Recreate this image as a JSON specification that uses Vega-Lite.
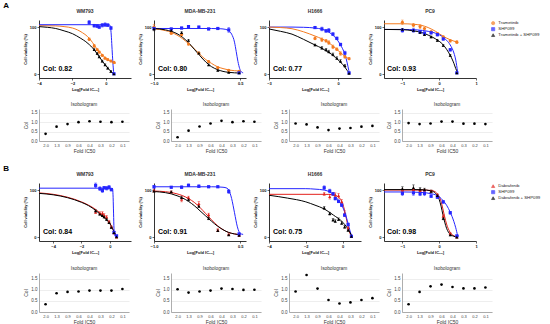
{
"$schema":"https://vega.github.io/schema/vega-lite/v6.json",
"padding":{"left":3,"top":1,"right":0,"bottom":0},
"autosize":{"type":"pad"},
"background":"white",
"datasets":{
"curves":[
{"p":"A1","d":"Trametinib","x":-4,"y":103},{"p":"A1","d":"Trametinib","x":-3,"y":102.5},{"p":"A1","d":"Trametinib","x":-2.5,"y":101},{"p":"A1","d":"Trametinib","x":-2,"y":98},{"p":"A1","d":"Trametinib","x":-1.7,"y":94},{"p":"A1","d":"Trametinib","x":-1.4,"y":88},{"p":"A1","d":"Trametinib","x":-1.1,"y":80},{"p":"A1","d":"Trametinib","x":-0.9,"y":72},{"p":"A1","d":"Trametinib","x":-0.7,"y":62},{"p":"A1","d":"Trametinib","x":-0.5,"y":52},{"p":"A1","d":"Trametinib","x":-0.3,"y":44},{"p":"A1","d":"Trametinib","x":-0.1,"y":37},{"p":"A1","d":"Trametinib","x":0.1,"y":31},{"p":"A1","d":"Trametinib","x":0.3,"y":27.5},{"p":"A1","d":"Trametinib","x":0.5,"y":24.5},{"p":"A1","d":"Trametinib","x":0.6,"y":23.5},
{"p":"A1","d":"SHP099","x":-4,"y":105},{"p":"A1","d":"SHP099","x":0,"y":105},{"p":"A1","d":"SHP099","x":0.22,"y":104.5},{"p":"A1","d":"SHP099","x":0.27,"y":100},{"p":"A1","d":"SHP099","x":0.31,"y":88},{"p":"A1","d":"SHP099","x":0.35,"y":65},{"p":"A1","d":"SHP099","x":0.39,"y":40},{"p":"A1","d":"SHP099","x":0.43,"y":18},{"p":"A1","d":"SHP099","x":0.47,"y":3},{"p":"A1","d":"SHP099","x":0.5,"y":0.5},
{"p":"A1","d":"Trametinib + SHP099","x":-4,"y":101},{"p":"A1","d":"Trametinib + SHP099","x":-3.5,"y":99.5},{"p":"A1","d":"Trametinib + SHP099","x":-3,"y":97},{"p":"A1","d":"Trametinib + SHP099","x":-2.5,"y":92},{"p":"A1","d":"Trametinib + SHP099","x":-2,"y":86},{"p":"A1","d":"Trametinib + SHP099","x":-1.5,"y":76},{"p":"A1","d":"Trametinib + SHP099","x":-1.2,"y":69},{"p":"A1","d":"Trametinib + SHP099","x":-1,"y":63},{"p":"A1","d":"Trametinib + SHP099","x":-0.8,"y":56},{"p":"A1","d":"Trametinib + SHP099","x":-0.6,"y":47},{"p":"A1","d":"Trametinib + SHP099","x":-0.4,"y":37},{"p":"A1","d":"Trametinib + SHP099","x":-0.2,"y":27},{"p":"A1","d":"Trametinib + SHP099","x":0,"y":18},{"p":"A1","d":"Trametinib + SHP099","x":0.2,"y":10},{"p":"A1","d":"Trametinib + SHP099","x":0.35,"y":4},{"p":"A1","d":"Trametinib + SHP099","x":0.5,"y":0},
{"p":"A2","d":"Trametinib","x":-1,"y":96},{"p":"A2","d":"Trametinib","x":-0.9,"y":95},{"p":"A2","d":"Trametinib","x":-0.8,"y":92.5},{"p":"A2","d":"Trametinib","x":-0.7,"y":89},{"p":"A2","d":"Trametinib","x":-0.6,"y":83},{"p":"A2","d":"Trametinib","x":-0.5,"y":75},{"p":"A2","d":"Trametinib","x":-0.4,"y":65},{"p":"A2","d":"Trametinib","x":-0.3,"y":54},{"p":"A2","d":"Trametinib","x":-0.2,"y":42},{"p":"A2","d":"Trametinib","x":-0.1,"y":31},{"p":"A2","d":"Trametinib","x":0,"y":23},{"p":"A2","d":"Trametinib","x":0.1,"y":16},{"p":"A2","d":"Trametinib","x":0.2,"y":12},{"p":"A2","d":"Trametinib","x":0.3,"y":9},{"p":"A2","d":"Trametinib","x":0.4,"y":7.5},{"p":"A2","d":"Trametinib","x":0.5,"y":6.5},
{"p":"A2","d":"SHP099","x":-1,"y":97},{"p":"A2","d":"SHP099","x":0,"y":97},{"p":"A2","d":"SHP099","x":0.15,"y":96.5},{"p":"A2","d":"SHP099","x":0.25,"y":95},{"p":"A2","d":"SHP099","x":0.3,"y":92},{"p":"A2","d":"SHP099","x":0.35,"y":85},{"p":"A2","d":"SHP099","x":0.4,"y":68},{"p":"A2","d":"SHP099","x":0.43,"y":48},{"p":"A2","d":"SHP099","x":0.46,"y":27},{"p":"A2","d":"SHP099","x":0.49,"y":12},{"p":"A2","d":"SHP099","x":0.52,"y":5},{"p":"A2","d":"SHP099","x":0.55,"y":3},
{"p":"A2","d":"Trametinib + SHP099","x":-1,"y":97},{"p":"A2","d":"Trametinib + SHP099","x":-0.9,"y":96},{"p":"A2","d":"Trametinib + SHP099","x":-0.8,"y":94},{"p":"A2","d":"Trametinib + SHP099","x":-0.7,"y":91},{"p":"A2","d":"Trametinib + SHP099","x":-0.6,"y":86},{"p":"A2","d":"Trametinib + SHP099","x":-0.5,"y":78},{"p":"A2","d":"Trametinib + SHP099","x":-0.4,"y":67},{"p":"A2","d":"Trametinib + SHP099","x":-0.3,"y":53},{"p":"A2","d":"Trametinib + SHP099","x":-0.2,"y":39},{"p":"A2","d":"Trametinib + SHP099","x":-0.1,"y":26},{"p":"A2","d":"Trametinib + SHP099","x":0,"y":16},{"p":"A2","d":"Trametinib + SHP099","x":0.1,"y":10},{"p":"A2","d":"Trametinib + SHP099","x":0.2,"y":6},{"p":"A2","d":"Trametinib + SHP099","x":0.3,"y":4},{"p":"A2","d":"Trametinib + SHP099","x":0.4,"y":3},{"p":"A2","d":"Trametinib + SHP099","x":0.5,"y":2.5},
{"p":"A3","d":"SHP099","x":-3,"y":100},{"p":"A3","d":"SHP099","x":-2,"y":100},{"p":"A3","d":"SHP099","x":-1.5,"y":99.5},{"p":"A3","d":"SHP099","x":-1,"y":98},{"p":"A3","d":"SHP099","x":-0.7,"y":95.5},{"p":"A3","d":"SHP099","x":-0.5,"y":92},{"p":"A3","d":"SHP099","x":-0.3,"y":86},{"p":"A3","d":"SHP099","x":-0.1,"y":77},{"p":"A3","d":"SHP099","x":0.1,"y":63},{"p":"A3","d":"SHP099","x":0.2,"y":54},{"p":"A3","d":"SHP099","x":0.3,"y":42},{"p":"A3","d":"SHP099","x":0.4,"y":24},{"p":"A3","d":"SHP099","x":0.47,"y":8},{"p":"A3","d":"SHP099","x":0.5,"y":2},
{"p":"A3","d":"Trametinib","x":-3,"y":100},{"p":"A3","d":"Trametinib","x":-2.5,"y":99},{"p":"A3","d":"Trametinib","x":-2,"y":96.5},{"p":"A3","d":"Trametinib","x":-1.5,"y":90},{"p":"A3","d":"Trametinib","x":-1,"y":81},{"p":"A3","d":"Trametinib","x":-0.7,"y":75},{"p":"A3","d":"Trametinib","x":-0.5,"y":70},{"p":"A3","d":"Trametinib","x":-0.3,"y":63},{"p":"A3","d":"Trametinib","x":-0.1,"y":55},{"p":"A3","d":"Trametinib","x":0.1,"y":46},{"p":"A3","d":"Trametinib","x":0.3,"y":38},{"p":"A3","d":"Trametinib","x":0.5,"y":32},
{"p":"A3","d":"Trametinib + SHP099","x":-3,"y":96},{"p":"A3","d":"Trametinib + SHP099","x":-2.5,"y":91},{"p":"A3","d":"Trametinib + SHP099","x":-2,"y":85},{"p":"A3","d":"Trametinib + SHP099","x":-1.5,"y":74},{"p":"A3","d":"Trametinib + SHP099","x":-1,"y":62},{"p":"A3","d":"Trametinib + SHP099","x":-0.7,"y":55},{"p":"A3","d":"Trametinib + SHP099","x":-0.5,"y":49},{"p":"A3","d":"Trametinib + SHP099","x":-0.3,"y":43},{"p":"A3","d":"Trametinib + SHP099","x":-0.1,"y":35},{"p":"A3","d":"Trametinib + SHP099","x":0.1,"y":26},{"p":"A3","d":"Trametinib + SHP099","x":0.3,"y":15},{"p":"A3","d":"Trametinib + SHP099","x":0.4,"y":8},{"p":"A3","d":"Trametinib + SHP099","x":0.5,"y":2},
{"p":"A4","d":"Trametinib","x":-1.5,"y":107},{"p":"A4","d":"Trametinib","x":-1,"y":107},{"p":"A4","d":"Trametinib","x":-0.7,"y":106},{"p":"A4","d":"Trametinib","x":-0.5,"y":104},{"p":"A4","d":"Trametinib","x":-0.3,"y":99},{"p":"A4","d":"Trametinib","x":-0.1,"y":91},{"p":"A4","d":"Trametinib","x":0.1,"y":81},{"p":"A4","d":"Trametinib","x":0.3,"y":73},{"p":"A4","d":"Trametinib","x":0.5,"y":68},
{"p":"A4","d":"SHP099","x":-1.5,"y":95},{"p":"A4","d":"SHP099","x":-1,"y":95},{"p":"A4","d":"SHP099","x":-0.6,"y":94},{"p":"A4","d":"SHP099","x":-0.3,"y":91},{"p":"A4","d":"SHP099","x":-0.1,"y":87},{"p":"A4","d":"SHP099","x":0.1,"y":79},{"p":"A4","d":"SHP099","x":0.2,"y":72},{"p":"A4","d":"SHP099","x":0.3,"y":62},{"p":"A4","d":"SHP099","x":0.4,"y":45},{"p":"A4","d":"SHP099","x":0.45,"y":30},{"p":"A4","d":"SHP099","x":0.5,"y":5},
{"p":"A4","d":"Trametinib + SHP099","x":-1.5,"y":95},{"p":"A4","d":"Trametinib + SHP099","x":-1,"y":94.5},{"p":"A4","d":"Trametinib + SHP099","x":-0.7,"y":92},{"p":"A4","d":"Trametinib + SHP099","x":-0.5,"y":89},{"p":"A4","d":"Trametinib + SHP099","x":-0.3,"y":83},{"p":"A4","d":"Trametinib + SHP099","x":-0.1,"y":75},{"p":"A4","d":"Trametinib + SHP099","x":0.1,"y":63},{"p":"A4","d":"Trametinib + SHP099","x":0.2,"y":53},{"p":"A4","d":"Trametinib + SHP099","x":0.3,"y":40},{"p":"A4","d":"Trametinib + SHP099","x":0.4,"y":23},{"p":"A4","d":"Trametinib + SHP099","x":0.45,"y":12},{"p":"A4","d":"Trametinib + SHP099","x":0.5,"y":3},
{"p":"B1","d":"Dabrafenib","x":-5,"y":94},{"p":"B1","d":"Dabrafenib","x":-4,"y":91},{"p":"B1","d":"Dabrafenib","x":-3,"y":85},{"p":"B1","d":"Dabrafenib","x":-2,"y":75},{"p":"B1","d":"Dabrafenib","x":-1.5,"y":68},{"p":"B1","d":"Dabrafenib","x":-1,"y":59},{"p":"B1","d":"Dabrafenib","x":-0.5,"y":46},{"p":"B1","d":"Dabrafenib","x":-0.2,"y":37},{"p":"B1","d":"Dabrafenib","x":0,"y":30},{"p":"B1","d":"Dabrafenib","x":0.2,"y":19},{"p":"B1","d":"Dabrafenib","x":0.35,"y":9},{"p":"B1","d":"Dabrafenib","x":0.5,"y":0},
{"p":"B1","d":"Dabrafenib + SHP099","x":-5,"y":93},{"p":"B1","d":"Dabrafenib + SHP099","x":-4,"y":90},{"p":"B1","d":"Dabrafenib + SHP099","x":-3,"y":84},{"p":"B1","d":"Dabrafenib + SHP099","x":-2,"y":74},{"p":"B1","d":"Dabrafenib + SHP099","x":-1.5,"y":67},{"p":"B1","d":"Dabrafenib + SHP099","x":-1,"y":57},{"p":"B1","d":"Dabrafenib + SHP099","x":-0.5,"y":44},{"p":"B1","d":"Dabrafenib + SHP099","x":-0.2,"y":36},{"p":"B1","d":"Dabrafenib + SHP099","x":0,"y":29},{"p":"B1","d":"Dabrafenib + SHP099","x":0.2,"y":18},{"p":"B1","d":"Dabrafenib + SHP099","x":0.35,"y":8},{"p":"B1","d":"Dabrafenib + SHP099","x":0.5,"y":0},
{"p":"B1","d":"SHP099","x":-5,"y":104},{"p":"B1","d":"SHP099","x":0,"y":104},{"p":"B1","d":"SHP099","x":0.2,"y":103},{"p":"B1","d":"SHP099","x":0.23,"y":90},{"p":"B1","d":"SHP099","x":0.26,"y":60},{"p":"B1","d":"SHP099","x":0.29,"y":25},{"p":"B1","d":"SHP099","x":0.32,"y":8},{"p":"B1","d":"SHP099","x":0.38,"y":2},{"p":"B1","d":"SHP099","x":0.45,"y":0.5},
{"p":"B2","d":"Dabrafenib","x":-1,"y":98},{"p":"B2","d":"Dabrafenib","x":-0.9,"y":97.5},{"p":"B2","d":"Dabrafenib","x":-0.8,"y":96.5},{"p":"B2","d":"Dabrafenib","x":-0.7,"y":95},{"p":"B2","d":"Dabrafenib","x":-0.6,"y":92},{"p":"B2","d":"Dabrafenib","x":-0.5,"y":88},{"p":"B2","d":"Dabrafenib","x":-0.4,"y":82},{"p":"B2","d":"Dabrafenib","x":-0.3,"y":74},{"p":"B2","d":"Dabrafenib","x":-0.2,"y":63},{"p":"B2","d":"Dabrafenib","x":-0.1,"y":50},{"p":"B2","d":"Dabrafenib","x":0,"y":37},{"p":"B2","d":"Dabrafenib","x":0.1,"y":25},{"p":"B2","d":"Dabrafenib","x":0.2,"y":16},{"p":"B2","d":"Dabrafenib","x":0.3,"y":10},{"p":"B2","d":"Dabrafenib","x":0.4,"y":7},{"p":"B2","d":"Dabrafenib","x":0.5,"y":5},
{"p":"B2","d":"Dabrafenib + SHP099","x":-1,"y":97},{"p":"B2","d":"Dabrafenib + SHP099","x":-0.9,"y":96},{"p":"B2","d":"Dabrafenib + SHP099","x":-0.8,"y":94.5},{"p":"B2","d":"Dabrafenib + SHP099","x":-0.7,"y":92},{"p":"B2","d":"Dabrafenib + SHP099","x":-0.6,"y":88},{"p":"B2","d":"Dabrafenib + SHP099","x":-0.5,"y":83},{"p":"B2","d":"Dabrafenib + SHP099","x":-0.4,"y":76},{"p":"B2","d":"Dabrafenib + SHP099","x":-0.3,"y":67},{"p":"B2","d":"Dabrafenib + SHP099","x":-0.2,"y":56},{"p":"B2","d":"Dabrafenib + SHP099","x":-0.1,"y":45},{"p":"B2","d":"Dabrafenib + SHP099","x":0,"y":34},{"p":"B2","d":"Dabrafenib + SHP099","x":0.1,"y":24},{"p":"B2","d":"Dabrafenib + SHP099","x":0.2,"y":16},{"p":"B2","d":"Dabrafenib + SHP099","x":0.3,"y":10},{"p":"B2","d":"Dabrafenib + SHP099","x":0.4,"y":7},{"p":"B2","d":"Dabrafenib + SHP099","x":0.5,"y":5},
{"p":"B2","d":"SHP099","x":-1,"y":107},{"p":"B2","d":"SHP099","x":0,"y":107},{"p":"B2","d":"SHP099","x":0.2,"y":106},{"p":"B2","d":"SHP099","x":0.27,"y":104},{"p":"B2","d":"SHP099","x":0.3,"y":100},{"p":"B2","d":"SHP099","x":0.35,"y":82},{"p":"B2","d":"SHP099","x":0.4,"y":52},{"p":"B2","d":"SHP099","x":0.45,"y":22},{"p":"B2","d":"SHP099","x":0.5,"y":8},{"p":"B2","d":"SHP099","x":0.55,"y":6},
{"p":"B3","d":"Dabrafenib","x":-4,"y":91},{"p":"B3","d":"Dabrafenib","x":-1,"y":91},{"p":"B3","d":"Dabrafenib","x":-0.5,"y":90},{"p":"B3","d":"Dabrafenib","x":-0.3,"y":87},{"p":"B3","d":"Dabrafenib","x":-0.1,"y":80},{"p":"B3","d":"Dabrafenib","x":0,"y":72},{"p":"B3","d":"Dabrafenib","x":0.1,"y":58},{"p":"B3","d":"Dabrafenib","x":0.2,"y":40},{"p":"B3","d":"Dabrafenib","x":0.3,"y":22},{"p":"B3","d":"Dabrafenib","x":0.4,"y":8},{"p":"B3","d":"Dabrafenib","x":0.5,"y":2},
{"p":"B3","d":"SHP099","x":-4,"y":103},{"p":"B3","d":"SHP099","x":-2,"y":103},{"p":"B3","d":"SHP099","x":-1.5,"y":102},{"p":"B3","d":"SHP099","x":-1,"y":100},{"p":"B3","d":"SHP099","x":-0.7,"y":96},{"p":"B3","d":"SHP099","x":-0.5,"y":90},{"p":"B3","d":"SHP099","x":-0.3,"y":82},{"p":"B3","d":"SHP099","x":-0.1,"y":71},{"p":"B3","d":"SHP099","x":0.1,"y":55},{"p":"B3","d":"SHP099","x":0.2,"y":43},{"p":"B3","d":"SHP099","x":0.3,"y":29},{"p":"B3","d":"SHP099","x":0.4,"y":14},{"p":"B3","d":"SHP099","x":0.5,"y":2},
{"p":"B3","d":"Dabrafenib + SHP099","x":-4,"y":89},{"p":"B3","d":"Dabrafenib + SHP099","x":-3,"y":83},{"p":"B3","d":"Dabrafenib + SHP099","x":-2,"y":75},{"p":"B3","d":"Dabrafenib + SHP099","x":-1.5,"y":68},{"p":"B3","d":"Dabrafenib + SHP099","x":-1,"y":60},{"p":"B3","d":"Dabrafenib + SHP099","x":-0.5,"y":47},{"p":"B3","d":"Dabrafenib + SHP099","x":0,"y":32},{"p":"B3","d":"Dabrafenib + SHP099","x":0.25,"y":20},{"p":"B3","d":"Dabrafenib + SHP099","x":0.4,"y":10},{"p":"B3","d":"Dabrafenib + SHP099","x":0.5,"y":3},
{"p":"B4","d":"Dabrafenib","x":-1.5,"y":100},{"p":"B4","d":"Dabrafenib","x":-0.5,"y":100},{"p":"B4","d":"Dabrafenib","x":-0.2,"y":99},{"p":"B4","d":"Dabrafenib","x":-0.1,"y":96},{"p":"B4","d":"Dabrafenib","x":0,"y":86},{"p":"B4","d":"Dabrafenib","x":0.05,"y":76},{"p":"B4","d":"Dabrafenib","x":0.1,"y":60},{"p":"B4","d":"Dabrafenib","x":0.15,"y":43},{"p":"B4","d":"Dabrafenib","x":0.2,"y":28},{"p":"B4","d":"Dabrafenib","x":0.3,"y":10},{"p":"B4","d":"Dabrafenib","x":0.4,"y":3},{"p":"B4","d":"Dabrafenib","x":0.5,"y":0},
{"p":"B4","d":"Dabrafenib + SHP099","x":-1.5,"y":101},{"p":"B4","d":"Dabrafenib + SHP099","x":-0.5,"y":101},{"p":"B4","d":"Dabrafenib + SHP099","x":-0.2,"y":98},{"p":"B4","d":"Dabrafenib + SHP099","x":-0.1,"y":93},{"p":"B4","d":"Dabrafenib + SHP099","x":0,"y":80},{"p":"B4","d":"Dabrafenib + SHP099","x":0.05,"y":66},{"p":"B4","d":"Dabrafenib + SHP099","x":0.1,"y":48},{"p":"B4","d":"Dabrafenib + SHP099","x":0.15,"y":32},{"p":"B4","d":"Dabrafenib + SHP099","x":0.2,"y":19},{"p":"B4","d":"Dabrafenib + SHP099","x":0.3,"y":6},{"p":"B4","d":"Dabrafenib + SHP099","x":0.4,"y":2},{"p":"B4","d":"Dabrafenib + SHP099","x":0.5,"y":0},
{"p":"B4","d":"SHP099","x":-1.5,"y":96},{"p":"B4","d":"SHP099","x":-1,"y":96},{"p":"B4","d":"SHP099","x":-0.5,"y":95},{"p":"B4","d":"SHP099","x":-0.2,"y":92},{"p":"B4","d":"SHP099","x":0,"y":86},{"p":"B4","d":"SHP099","x":0.1,"y":78},{"p":"B4","d":"SHP099","x":0.2,"y":68},{"p":"B4","d":"SHP099","x":0.3,"y":53},{"p":"B4","d":"SHP099","x":0.4,"y":33},{"p":"B4","d":"SHP099","x":0.45,"y":20},{"p":"B4","d":"SHP099","x":0.5,"y":5},{"p":"B4","d":"SHP099","x":0.53,"y":2}
],
"pts":[
{"p":"A1","d":"Trametinib","x":-1,"y":74,"e":3},{"p":"A1","d":"Trametinib","x":-0.7,"y":60,"e":3},{"p":"A1","d":"Trametinib","x":-0.52,"y":52,"e":2},{"p":"A1","d":"Trametinib","x":-0.4,"y":47,"e":2},{"p":"A1","d":"Trametinib","x":-0.22,"y":40,"e":2},{"p":"A1","d":"Trametinib","x":-0.05,"y":34,"e":2},{"p":"A1","d":"Trametinib","x":0.11,"y":31,"e":2},{"p":"A1","d":"Trametinib","x":0.3,"y":28,"e":2},{"p":"A1","d":"Trametinib","x":0.48,"y":25,"e":2},
{"p":"A1","d":"SHP099","x":-1,"y":110,"e":4},{"p":"A1","d":"SHP099","x":-0.7,"y":103,"e":3},{"p":"A1","d":"SHP099","x":-0.52,"y":102,"e":3},{"p":"A1","d":"SHP099","x":-0.4,"y":100,"e":3},{"p":"A1","d":"SHP099","x":-0.22,"y":104,"e":4},{"p":"A1","d":"SHP099","x":-0.05,"y":105,"e":4},{"p":"A1","d":"SHP099","x":0.11,"y":104,"e":3},{"p":"A1","d":"SHP099","x":0.3,"y":98,"e":3},{"p":"A1","d":"SHP099","x":0.48,"y":1,"e":1},
{"p":"A1","d":"Trametinib + SHP099","x":-0.7,"y":52,"e":2},{"p":"A1","d":"Trametinib + SHP099","x":-0.52,"y":44,"e":2},{"p":"A1","d":"Trametinib + SHP099","x":-0.4,"y":37,"e":2},{"p":"A1","d":"Trametinib + SHP099","x":-0.22,"y":28,"e":2},{"p":"A1","d":"Trametinib + SHP099","x":-0.05,"y":20,"e":2},{"p":"A1","d":"Trametinib + SHP099","x":0.11,"y":13,"e":2},{"p":"A1","d":"Trametinib + SHP099","x":0.3,"y":6,"e":2},{"p":"A1","d":"Trametinib + SHP099","x":0.48,"y":1,"e":1},
{"p":"A2","d":"Trametinib","x":-1,"y":100,"e":6},{"p":"A2","d":"Trametinib","x":-0.7,"y":87,"e":3},{"p":"A2","d":"Trametinib","x":-0.52,"y":84,"e":2},{"p":"A2","d":"Trametinib","x":-0.4,"y":64,"e":2},{"p":"A2","d":"Trametinib","x":-0.22,"y":45,"e":2},{"p":"A2","d":"Trametinib","x":-0.05,"y":27,"e":2},{"p":"A2","d":"Trametinib","x":0.11,"y":14,"e":1},{"p":"A2","d":"Trametinib","x":0.3,"y":8,"e":1},{"p":"A2","d":"Trametinib","x":0.48,"y":6,"e":1},
{"p":"A2","d":"SHP099","x":-1,"y":97,"e":2},{"p":"A2","d":"SHP099","x":-0.7,"y":96,"e":2},{"p":"A2","d":"SHP099","x":-0.52,"y":98,"e":2},{"p":"A2","d":"SHP099","x":-0.4,"y":101,"e":2},{"p":"A2","d":"SHP099","x":-0.22,"y":100,"e":2},{"p":"A2","d":"SHP099","x":-0.05,"y":96,"e":2},{"p":"A2","d":"SHP099","x":0.11,"y":97,"e":2},{"p":"A2","d":"SHP099","x":0.3,"y":94,"e":5},{"p":"A2","d":"SHP099","x":0.48,"y":3,"e":1},
{"p":"A2","d":"Trametinib + SHP099","x":-1,"y":96,"e":4},{"p":"A2","d":"Trametinib + SHP099","x":-0.7,"y":93,"e":2},{"p":"A2","d":"Trametinib + SHP099","x":-0.52,"y":88,"e":2},{"p":"A2","d":"Trametinib + SHP099","x":-0.4,"y":72,"e":2},{"p":"A2","d":"Trametinib + SHP099","x":-0.22,"y":45,"e":2},{"p":"A2","d":"Trametinib + SHP099","x":-0.05,"y":20,"e":2},{"p":"A2","d":"Trametinib + SHP099","x":0.11,"y":8,"e":1},{"p":"A2","d":"Trametinib + SHP099","x":0.3,"y":4,"e":1},{"p":"A2","d":"Trametinib + SHP099","x":0.48,"y":3,"e":1},
{"p":"A3","d":"Trametinib","x":-1,"y":76,"e":3},{"p":"A3","d":"Trametinib","x":-0.7,"y":73,"e":4},{"p":"A3","d":"Trametinib","x":-0.52,"y":71,"e":3},{"p":"A3","d":"Trametinib","x":-0.4,"y":67,"e":4},{"p":"A3","d":"Trametinib","x":-0.22,"y":58,"e":4},{"p":"A3","d":"Trametinib","x":-0.05,"y":53,"e":3},{"p":"A3","d":"Trametinib","x":0.11,"y":44,"e":4},{"p":"A3","d":"Trametinib","x":0.3,"y":37,"e":3},{"p":"A3","d":"Trametinib","x":0.48,"y":33,"e":2},
{"p":"A3","d":"SHP099","x":-1,"y":99,"e":2},{"p":"A3","d":"SHP099","x":-0.7,"y":96,"e":4},{"p":"A3","d":"SHP099","x":-0.52,"y":92,"e":3},{"p":"A3","d":"SHP099","x":-0.4,"y":93,"e":4},{"p":"A3","d":"SHP099","x":-0.22,"y":85,"e":3},{"p":"A3","d":"SHP099","x":-0.05,"y":76,"e":3},{"p":"A3","d":"SHP099","x":0.11,"y":63,"e":3},{"p":"A3","d":"SHP099","x":0.3,"y":45,"e":4},{"p":"A3","d":"SHP099","x":0.48,"y":3,"e":1},
{"p":"A3","d":"Trametinib + SHP099","x":-1,"y":62,"e":2},{"p":"A3","d":"Trametinib + SHP099","x":-0.7,"y":56,"e":3},{"p":"A3","d":"Trametinib + SHP099","x":-0.52,"y":52,"e":3},{"p":"A3","d":"Trametinib + SHP099","x":-0.4,"y":48,"e":3},{"p":"A3","d":"Trametinib + SHP099","x":-0.22,"y":42,"e":3},{"p":"A3","d":"Trametinib + SHP099","x":-0.05,"y":34,"e":3},{"p":"A3","d":"Trametinib + SHP099","x":0.11,"y":28,"e":3},{"p":"A3","d":"Trametinib + SHP099","x":0.3,"y":18,"e":3},{"p":"A3","d":"Trametinib + SHP099","x":0.48,"y":2,"e":1},
{"p":"A4","d":"Trametinib","x":-1,"y":110,"e":5},{"p":"A4","d":"Trametinib","x":-0.7,"y":104,"e":4},{"p":"A4","d":"Trametinib","x":-0.52,"y":101,"e":4},{"p":"A4","d":"Trametinib","x":-0.4,"y":97,"e":3},{"p":"A4","d":"Trametinib","x":-0.22,"y":90,"e":3},{"p":"A4","d":"Trametinib","x":-0.05,"y":86,"e":3},{"p":"A4","d":"Trametinib","x":0.11,"y":79,"e":3},{"p":"A4","d":"Trametinib","x":0.3,"y":71,"e":3},{"p":"A4","d":"Trametinib","x":0.48,"y":68,"e":3},
{"p":"A4","d":"SHP099","x":-1,"y":93,"e":4},{"p":"A4","d":"SHP099","x":-0.7,"y":93,"e":4},{"p":"A4","d":"SHP099","x":-0.52,"y":90,"e":3},{"p":"A4","d":"SHP099","x":-0.4,"y":87,"e":3},{"p":"A4","d":"SHP099","x":-0.22,"y":88,"e":3},{"p":"A4","d":"SHP099","x":-0.05,"y":84,"e":3},{"p":"A4","d":"SHP099","x":0.11,"y":75,"e":3},{"p":"A4","d":"SHP099","x":0.3,"y":52,"e":3},{"p":"A4","d":"SHP099","x":0.48,"y":3,"e":1},
{"p":"A4","d":"Trametinib + SHP099","x":-1,"y":95,"e":2},{"p":"A4","d":"Trametinib + SHP099","x":-0.7,"y":93,"e":2},{"p":"A4","d":"Trametinib + SHP099","x":-0.52,"y":89,"e":2},{"p":"A4","d":"Trametinib + SHP099","x":-0.4,"y":84,"e":2},{"p":"A4","d":"Trametinib + SHP099","x":-0.22,"y":79,"e":2},{"p":"A4","d":"Trametinib + SHP099","x":-0.05,"y":72,"e":2},{"p":"A4","d":"Trametinib + SHP099","x":0.11,"y":61,"e":2},{"p":"A4","d":"Trametinib + SHP099","x":0.3,"y":40,"e":2},{"p":"A4","d":"Trametinib + SHP099","x":0.48,"y":3,"e":1},
{"p":"B1","d":"Dabrafenib","x":-1,"y":53,"e":3},{"p":"B1","d":"Dabrafenib","x":-0.7,"y":51,"e":3},{"p":"B1","d":"Dabrafenib","x":-0.52,"y":51,"e":3},{"p":"B1","d":"Dabrafenib","x":-0.4,"y":47,"e":3},{"p":"B1","d":"Dabrafenib","x":-0.22,"y":43,"e":3},{"p":"B1","d":"Dabrafenib","x":-0.05,"y":33,"e":3},{"p":"B1","d":"Dabrafenib","x":0.11,"y":22,"e":2},{"p":"B1","d":"Dabrafenib","x":0.3,"y":9,"e":2},{"p":"B1","d":"Dabrafenib","x":0.48,"y":0,"e":1},
{"p":"B1","d":"SHP099","x":-1,"y":110,"e":5},{"p":"B1","d":"SHP099","x":-0.7,"y":103,"e":4},{"p":"B1","d":"SHP099","x":-0.52,"y":99,"e":4},{"p":"B1","d":"SHP099","x":-0.4,"y":105,"e":3},{"p":"B1","d":"SHP099","x":-0.22,"y":104,"e":4},{"p":"B1","d":"SHP099","x":-0.05,"y":106,"e":4},{"p":"B1","d":"SHP099","x":0.11,"y":101,"e":3},{"p":"B1","d":"SHP099","x":0.3,"y":10,"e":3},{"p":"B1","d":"SHP099","x":0.48,"y":3,"e":1},
{"p":"B1","d":"Dabrafenib + SHP099","x":-1,"y":56,"e":2},{"p":"B1","d":"Dabrafenib + SHP099","x":-0.7,"y":49,"e":2},{"p":"B1","d":"Dabrafenib + SHP099","x":-0.52,"y":46,"e":2},{"p":"B1","d":"Dabrafenib + SHP099","x":-0.4,"y":43,"e":2},{"p":"B1","d":"Dabrafenib + SHP099","x":-0.22,"y":38,"e":2},{"p":"B1","d":"Dabrafenib + SHP099","x":-0.05,"y":31,"e":2},{"p":"B1","d":"Dabrafenib + SHP099","x":0.11,"y":21,"e":2},{"p":"B1","d":"Dabrafenib + SHP099","x":0.3,"y":10,"e":2},{"p":"B1","d":"Dabrafenib + SHP099","x":0.48,"y":1,"e":1},
{"p":"B2","d":"Dabrafenib","x":-1,"y":99,"e":3},{"p":"B2","d":"Dabrafenib","x":-0.7,"y":96,"e":2},{"p":"B2","d":"Dabrafenib","x":-0.52,"y":80,"e":5},{"p":"B2","d":"Dabrafenib","x":-0.4,"y":84,"e":3},{"p":"B2","d":"Dabrafenib","x":-0.22,"y":71,"e":5},{"p":"B2","d":"Dabrafenib","x":-0.05,"y":48,"e":3},{"p":"B2","d":"Dabrafenib","x":0.11,"y":15,"e":3},{"p":"B2","d":"Dabrafenib","x":0.3,"y":6,"e":1},{"p":"B2","d":"Dabrafenib","x":0.48,"y":4,"e":1},
{"p":"B2","d":"SHP099","x":-1,"y":107,"e":3},{"p":"B2","d":"SHP099","x":-0.7,"y":106,"e":2},{"p":"B2","d":"SHP099","x":-0.52,"y":106,"e":3},{"p":"B2","d":"SHP099","x":-0.4,"y":110,"e":3},{"p":"B2","d":"SHP099","x":-0.22,"y":108,"e":3},{"p":"B2","d":"SHP099","x":-0.05,"y":107,"e":2},{"p":"B2","d":"SHP099","x":0.11,"y":107,"e":2},{"p":"B2","d":"SHP099","x":0.3,"y":97,"e":4},{"p":"B2","d":"SHP099","x":0.48,"y":7,"e":2},
{"p":"B2","d":"Dabrafenib + SHP099","x":-1,"y":98,"e":2},{"p":"B2","d":"Dabrafenib + SHP099","x":-0.7,"y":96,"e":2},{"p":"B2","d":"Dabrafenib + SHP099","x":-0.52,"y":84,"e":3},{"p":"B2","d":"Dabrafenib + SHP099","x":-0.4,"y":80,"e":3},{"p":"B2","d":"Dabrafenib + SHP099","x":-0.22,"y":66,"e":3},{"p":"B2","d":"Dabrafenib + SHP099","x":-0.05,"y":40,"e":3},{"p":"B2","d":"Dabrafenib + SHP099","x":0.11,"y":14,"e":2},{"p":"B2","d":"Dabrafenib + SHP099","x":0.3,"y":5,"e":1},{"p":"B2","d":"Dabrafenib + SHP099","x":0.48,"y":4,"e":1},
{"p":"B3","d":"Dabrafenib","x":-1,"y":92,"e":3},{"p":"B3","d":"Dabrafenib","x":-0.7,"y":86,"e":5},{"p":"B3","d":"Dabrafenib","x":-0.52,"y":92,"e":3},{"p":"B3","d":"Dabrafenib","x":-0.4,"y":90,"e":4},{"p":"B3","d":"Dabrafenib","x":-0.22,"y":88,"e":5},{"p":"B3","d":"Dabrafenib","x":-0.05,"y":75,"e":5},{"p":"B3","d":"Dabrafenib","x":0.11,"y":50,"e":6},{"p":"B3","d":"Dabrafenib","x":0.3,"y":20,"e":5},{"p":"B3","d":"Dabrafenib","x":0.48,"y":2,"e":1},
{"p":"B3","d":"SHP099","x":-1,"y":105,"e":4},{"p":"B3","d":"SHP099","x":-0.7,"y":98,"e":4},{"p":"B3","d":"SHP099","x":-0.52,"y":92,"e":3},{"p":"B3","d":"SHP099","x":-0.4,"y":82,"e":3},{"p":"B3","d":"SHP099","x":-0.22,"y":76,"e":3},{"p":"B3","d":"SHP099","x":-0.05,"y":68,"e":3},{"p":"B3","d":"SHP099","x":0.11,"y":47,"e":3},{"p":"B3","d":"SHP099","x":0.3,"y":27,"e":3},{"p":"B3","d":"SHP099","x":0.48,"y":2,"e":1},
{"p":"B3","d":"Dabrafenib + SHP099","x":-1,"y":62,"e":3},{"p":"B3","d":"Dabrafenib + SHP099","x":-0.7,"y":50,"e":3},{"p":"B3","d":"Dabrafenib + SHP099","x":-0.52,"y":37,"e":3},{"p":"B3","d":"Dabrafenib + SHP099","x":-0.4,"y":34,"e":3},{"p":"B3","d":"Dabrafenib + SHP099","x":-0.22,"y":38,"e":3},{"p":"B3","d":"Dabrafenib + SHP099","x":-0.05,"y":30,"e":3},{"p":"B3","d":"Dabrafenib + SHP099","x":0.11,"y":22,"e":3},{"p":"B3","d":"Dabrafenib + SHP099","x":0.3,"y":15,"e":3},{"p":"B3","d":"Dabrafenib + SHP099","x":0.48,"y":2,"e":1},
{"p":"B4","d":"Dabrafenib","x":-1,"y":100,"e":2},{"p":"B4","d":"Dabrafenib","x":-0.7,"y":101,"e":3},{"p":"B4","d":"Dabrafenib","x":-0.52,"y":99,"e":2},{"p":"B4","d":"Dabrafenib","x":-0.4,"y":100,"e":2},{"p":"B4","d":"Dabrafenib","x":-0.22,"y":98,"e":2},{"p":"B4","d":"Dabrafenib","x":-0.05,"y":90,"e":2},{"p":"B4","d":"Dabrafenib","x":0.11,"y":45,"e":3},{"p":"B4","d":"Dabrafenib","x":0.3,"y":8,"e":2},{"p":"B4","d":"Dabrafenib","x":0.48,"y":0,"e":1},
{"p":"B4","d":"SHP099","x":-1,"y":93,"e":5},{"p":"B4","d":"SHP099","x":-0.7,"y":94,"e":5},{"p":"B4","d":"SHP099","x":-0.52,"y":92,"e":4},{"p":"B4","d":"SHP099","x":-0.4,"y":93,"e":5},{"p":"B4","d":"SHP099","x":-0.22,"y":87,"e":3},{"p":"B4","d":"SHP099","x":-0.05,"y":85,"e":3},{"p":"B4","d":"SHP099","x":0.11,"y":75,"e":3},{"p":"B4","d":"SHP099","x":0.3,"y":52,"e":3},{"p":"B4","d":"SHP099","x":0.48,"y":3,"e":1},
{"p":"B4","d":"Dabrafenib + SHP099","x":-1,"y":103,"e":4},{"p":"B4","d":"Dabrafenib + SHP099","x":-0.7,"y":105,"e":6},{"p":"B4","d":"Dabrafenib + SHP099","x":-0.52,"y":102,"e":3},{"p":"B4","d":"Dabrafenib + SHP099","x":-0.4,"y":101,"e":3},{"p":"B4","d":"Dabrafenib + SHP099","x":-0.22,"y":97,"e":3},{"p":"B4","d":"Dabrafenib + SHP099","x":-0.05,"y":88,"e":3},{"p":"B4","d":"Dabrafenib + SHP099","x":0.11,"y":40,"e":3},{"p":"B4","d":"Dabrafenib + SHP099","x":0.3,"y":5,"e":2},{"p":"B4","d":"Dabrafenib + SHP099","x":0.48,"y":0,"e":1}
],
"iso":[
{"p":"A1","f":"2.0","c":0.38},{"p":"A1","f":"1.3","c":0.76},{"p":"A1","f":"0.9","c":0.9},{"p":"A1","f":"0.6","c":1.0},{"p":"A1","f":"0.4","c":1.05},{"p":"A1","f":"0.3","c":1.02},{"p":"A1","f":"0.2","c":1.0},{"p":"A1","f":"0.1","c":1.02},
{"p":"A2","f":"2.0","c":0.2},{"p":"A2","f":"1.3","c":0.55},{"p":"A2","f":"0.9","c":0.77},{"p":"A2","f":"0.6","c":0.93},{"p":"A2","f":"0.4","c":1.07},{"p":"A2","f":"0.3","c":1.0},{"p":"A2","f":"0.2","c":1.05},{"p":"A2","f":"0.1","c":1.02},
{"p":"A3","f":"2.0","c":0.93},{"p":"A3","f":"1.3","c":0.88},{"p":"A3","f":"0.9","c":0.72},{"p":"A3","f":"0.6","c":0.58},{"p":"A3","f":"0.4","c":0.66},{"p":"A3","f":"0.3","c":0.69},{"p":"A3","f":"0.2","c":0.76},{"p":"A3","f":"0.1","c":0.8},
{"p":"A4","f":"2.0","c":0.95},{"p":"A4","f":"1.3","c":0.9},{"p":"A4","f":"0.9","c":0.93},{"p":"A4","f":"0.6","c":1.03},{"p":"A4","f":"0.4","c":1.03},{"p":"A4","f":"0.3","c":0.92},{"p":"A4","f":"0.2","c":0.92},{"p":"A4","f":"0.1","c":0.9},
{"p":"B1","f":"2.0","c":0.35},{"p":"B1","f":"1.3","c":0.84},{"p":"B1","f":"0.9","c":0.9},{"p":"B1","f":"0.6","c":0.92},{"p":"B1","f":"0.4","c":0.96},{"p":"B1","f":"0.3","c":0.96},{"p":"B1","f":"0.2","c":0.96},{"p":"B1","f":"0.1","c":1.03},
{"p":"B2","f":"2.0","c":1.02},{"p":"B2","f":"1.3","c":0.87},{"p":"B2","f":"0.9","c":0.92},{"p":"B2","f":"0.6","c":0.96},{"p":"B2","f":"0.4","c":1.05},{"p":"B2","f":"0.3","c":1.03},{"p":"B2","f":"0.2","c":0.99},{"p":"B2","f":"0.1","c":1.0},
{"p":"B3","f":"2.0","c":0.92},{"p":"B3","f":"1.3","c":1.66},{"p":"B3","f":"0.9","c":1.05},{"p":"B3","f":"0.6","c":0.54},{"p":"B3","f":"0.4","c":0.38},{"p":"B3","f":"0.3","c":0.43},{"p":"B3","f":"0.2","c":0.54},{"p":"B3","f":"0.1","c":0.62},
{"p":"B4","f":"2.0","c":0.35},{"p":"B4","f":"1.3","c":0.9},{"p":"B4","f":"0.9","c":1.15},{"p":"B4","f":"0.6","c":1.23},{"p":"B4","f":"0.4","c":1.12},{"p":"B4","f":"0.3","c":1.06},{"p":"B4","f":"0.2","c":1.06},{"p":"B4","f":"0.1","c":1.1}
],
"cols":[
{"p":"A1","label":"Col: 0.82"},{"p":"A2","label":"Col: 0.80"},{"p":"A3","label":"Col: 0.77"},{"p":"A4","label":"Col: 0.93"},
{"p":"B1","label":"Col: 0.84"},{"p":"B2","label":"Col: 0.91"},{"p":"B3","label":"Col: 0.75"},{"p":"B4","label":"Col: 0.98"}
],
"none":[]
},
"spacing":11,
"resolve":{"scale":{"color":"independent","shape":"independent"}},
"vconcat":[
{"spacing":11,"resolve":{"scale":{"color":"independent","shape":"independent"}},"vconcat":[
 {"bounds":"flush","spacing":23,"resolve":{"scale":{"color":"independent","shape":"independent"}},
  "title":{"text":"A","anchor":"start","frame":"bounds","dx":-20,"fontSize":8,"fontWeight":"bold","offset":-1,"color":"#000"},
  "hconcat":[
   {"width":92,"height":58,"title":{"text":"WM793","fontSize":5,"fontWeight":"bold","offset":6},
    "encoding":{"color":{"field":"d","type":"nominal","scale":{"domain":["Trametinib","SHP099","Trametinib + SHP099"],"range":["#F47B20","#2525FF","#000000"]},"legend":null}},
    "layer":[
     {"data":{"name":"curves"},"transform":[{"filter":"datum.p=='A1'"}],"mark":{"type":"line","interpolate":"monotone","strokeWidth":1},
      "encoding":{"x":{"field":"x","type":"quantitative","scale":{"domain":[-4,1.5],"nice":false,"zero":false},"axis":{"values":[-4,-2,0],"format":"d","title":"Log[Fold IC₅₀]"}},"y":{"field":"y","type":"quantitative","scale":{"domain":[-8,115],"nice":false,"zero":false},"axis":{"values":[0,50,100],"format":"d","title":"Cell viability (%)"}}}},
     {"data":{"name":"pts"},"transform":[{"filter":"datum.p=='A1'"}],"mark":{"type":"errorbar","ticks":true,"size":2.5,"thickness":0.6},
      "encoding":{"x":{"field":"x","type":"quantitative","axis":{"title":"Log[Fold IC₅₀]"}},"y":{"field":"y","type":"quantitative","axis":{"title":"Cell viability (%)"}},"yError":{"field":"e"}}},
     {"data":{"name":"pts"},"transform":[{"filter":"datum.p=='A1'"}],"mark":{"type":"point","filled":true,"size":10,"opacity":1},
      "encoding":{"x":{"field":"x","type":"quantitative","axis":{"title":"Log[Fold IC₅₀]"}},"y":{"field":"y","type":"quantitative","axis":{"title":"Cell viability (%)"}},"shape":{"field":"d","type":"nominal","scale":{"domain":["Trametinib","SHP099","Trametinib + SHP099"],"range":["circle","square","triangle-up"]},"legend":null}}},
     {"data":{"name":"cols"},"transform":[{"filter":"datum.p=='A1'"}],"mark":{"type":"text","align":"left","baseline":"middle","fontSize":7,"fontWeight":"bold","color":"#000"},"encoding":{"x":{"datum":-3.77,"type":"quantitative"},"y":{"datum":11,"type":"quantitative"},"color":{"value":"#000"},"text":{"field":"label","type":"nominal"}}}
    ]},
   {"width":92,"height":58,"title":{"text":"MDA-MB-231","fontSize":5,"fontWeight":"bold","offset":6},
    "encoding":{"color":{"field":"d","type":"nominal","scale":{"domain":["Trametinib","SHP099","Trametinib + SHP099"],"range":["#F47B20","#2525FF","#000000"]},"legend":null}},
    "layer":[
     {"data":{"name":"curves"},"transform":[{"filter":"datum.p=='A2'"}],"mark":{"type":"line","interpolate":"monotone","strokeWidth":1},
      "encoding":{"x":{"field":"x","type":"quantitative","scale":{"domain":[-1,0.6],"nice":false,"zero":false},"axis":{"values":[-1,-0.5,0,0.5],"format":".1f","title":"Log[Fold IC₅₀]"}},"y":{"field":"y","type":"quantitative","scale":{"domain":[-8,115],"nice":false,"zero":false},"axis":{"values":[0,50,100],"format":"d","title":"Cell viability (%)"}}}},
     {"data":{"name":"pts"},"transform":[{"filter":"datum.p=='A2'"}],"mark":{"type":"errorbar","ticks":true,"size":2.5,"thickness":0.6},
      "encoding":{"x":{"field":"x","type":"quantitative","axis":{"title":"Log[Fold IC₅₀]"}},"y":{"field":"y","type":"quantitative","axis":{"title":"Cell viability (%)"}},"yError":{"field":"e"}}},
     {"data":{"name":"pts"},"transform":[{"filter":"datum.p=='A2'"}],"mark":{"type":"point","filled":true,"size":10,"opacity":1},
      "encoding":{"x":{"field":"x","type":"quantitative","axis":{"title":"Log[Fold IC₅₀]"}},"y":{"field":"y","type":"quantitative","axis":{"title":"Cell viability (%)"}},"shape":{"field":"d","type":"nominal","scale":{"domain":["Trametinib","SHP099","Trametinib + SHP099"],"range":["circle","square","triangle-up"]},"legend":null}}},
     {"data":{"name":"cols"},"transform":[{"filter":"datum.p=='A2'"}],"mark":{"type":"text","align":"left","baseline":"middle","fontSize":7,"fontWeight":"bold","color":"#000"},"encoding":{"x":{"datum":-0.93,"type":"quantitative"},"y":{"datum":11,"type":"quantitative"},"color":{"value":"#000"},"text":{"field":"label","type":"nominal"}}}
    ]},
   {"width":92,"height":58,"title":{"text":"H1666","fontSize":5,"fontWeight":"bold","offset":6},
    "encoding":{"color":{"field":"d","type":"nominal","scale":{"domain":["Trametinib","SHP099","Trametinib + SHP099"],"range":["#F47B20","#2525FF","#000000"]},"legend":null}},
    "layer":[
     {"data":{"name":"curves"},"transform":[{"filter":"datum.p=='A3'"}],"mark":{"type":"line","interpolate":"monotone","strokeWidth":1},
      "encoding":{"x":{"field":"x","type":"quantitative","scale":{"domain":[-3,1],"nice":false,"zero":false},"axis":{"values":[-3,-2,-1,0],"format":"d","title":"Log[Fold IC₅₀]"}},"y":{"field":"y","type":"quantitative","scale":{"domain":[-8,115],"nice":false,"zero":false},"axis":{"values":[0,50,100],"format":"d","title":"Cell viability (%)"}}}},
     {"data":{"name":"pts"},"transform":[{"filter":"datum.p=='A3'"}],"mark":{"type":"errorbar","ticks":true,"size":2.5,"thickness":0.6},
      "encoding":{"x":{"field":"x","type":"quantitative","axis":{"title":"Log[Fold IC₅₀]"}},"y":{"field":"y","type":"quantitative","axis":{"title":"Cell viability (%)"}},"yError":{"field":"e"}}},
     {"data":{"name":"pts"},"transform":[{"filter":"datum.p=='A3'"}],"mark":{"type":"point","filled":true,"size":10,"opacity":1},
      "encoding":{"x":{"field":"x","type":"quantitative","axis":{"title":"Log[Fold IC₅₀]"}},"y":{"field":"y","type":"quantitative","axis":{"title":"Cell viability (%)"}},"shape":{"field":"d","type":"nominal","scale":{"domain":["Trametinib","SHP099","Trametinib + SHP099"],"range":["circle","square","triangle-up"]},"legend":null}}},
     {"data":{"name":"cols"},"transform":[{"filter":"datum.p=='A3'"}],"mark":{"type":"text","align":"left","baseline":"middle","fontSize":7,"fontWeight":"bold","color":"#000"},"encoding":{"x":{"datum":-2.83,"type":"quantitative"},"y":{"datum":11,"type":"quantitative"},"color":{"value":"#000"},"text":{"field":"label","type":"nominal"}}}
    ]},
   {"width":92,"height":58,"title":{"text":"PC9","fontSize":5,"fontWeight":"bold","offset":6},
    "encoding":{"color":{"field":"d","type":"nominal","scale":{"domain":["Trametinib","SHP099","Trametinib + SHP099"],"range":["#F47B20","#2525FF","#000000"]},"legend":{"orient":"none","legendX":107,"legendY":1,"title":null,"labelFontSize":4.3,"labelColor":"#222","symbolSize":10,"rowPadding":-2,"labelOffset":3,"symbolStrokeWidth":0.8,"padding":0}}},
    "layer":[
     {"data":{"name":"curves"},"transform":[{"filter":"datum.p=='A4'"}],"mark":{"type":"line","interpolate":"monotone","strokeWidth":1},
      "encoding":{"x":{"field":"x","type":"quantitative","scale":{"domain":[-1.5,1],"nice":false,"zero":false},"axis":{"values":[-1,0,1],"format":"d","title":"Log[Fold IC₅₀]"}},"y":{"field":"y","type":"quantitative","scale":{"domain":[-8,115],"nice":false,"zero":false},"axis":{"values":[0,50,100],"format":"d","title":"Cell viability (%)"}}}},
     {"data":{"name":"pts"},"transform":[{"filter":"datum.p=='A4'"}],"mark":{"type":"errorbar","ticks":true,"size":2.5,"thickness":0.6},
      "encoding":{"x":{"field":"x","type":"quantitative","axis":{"title":"Log[Fold IC₅₀]"}},"y":{"field":"y","type":"quantitative","axis":{"title":"Cell viability (%)"}},"yError":{"field":"e"}}},
     {"data":{"name":"pts"},"transform":[{"filter":"datum.p=='A4'"}],"mark":{"type":"point","filled":true,"size":10,"opacity":1},
      "encoding":{"x":{"field":"x","type":"quantitative","axis":{"title":"Log[Fold IC₅₀]"}},"y":{"field":"y","type":"quantitative","axis":{"title":"Cell viability (%)"}},"shape":{"field":"d","type":"nominal","scale":{"domain":["Trametinib","SHP099","Trametinib + SHP099"],"range":["circle","square","triangle-up"]},"legend":{"orient":"none","legendX":107,"legendY":1,"title":null,"labelFontSize":4.3,"labelColor":"#222","symbolSize":10,"rowPadding":-2,"labelOffset":3,"symbolStrokeWidth":0.8,"padding":0}}}},
     {"data":{"name":"cols"},"transform":[{"filter":"datum.p=='A4'"}],"mark":{"type":"text","align":"left","baseline":"middle","fontSize":7,"fontWeight":"bold","color":"#000"},"encoding":{"x":{"datum":-1.42,"type":"quantitative"},"y":{"datum":11,"type":"quantitative"},"color":{"value":"#000"},"text":{"field":"label","type":"nominal"}}}
    ]}
  ]},
 {"bounds":"flush","spacing":1,"resolve":{"scale":{"color":"independent","shape":"independent"}},"hconcat":[
  {"width":90,"height":32,"title":{"text":"Isobologram","fontSize":4.8,"fontWeight":"normal","offset":2},"data":{"name":"iso"},"transform":[{"filter":"datum.p=='A1'"}],"mark":{"type":"point","filled":true,"size":7,"color":"#000","opacity":1},
   "encoding":{"x":{"field":"f","type":"ordinal","sort":null,"scale":{"type":"point","padding":0.6},"axis":{"title":"Fold IC50","labelAngle":0}},"y":{"field":"c","type":"quantitative","scale":{"domain":[0,1.7],"nice":false},"axis":{"title":"Col","values":[0,0.5,1,1.5],"format":".1f","grid":true,"gridColor":"#e3e3e3","gridWidth":0.6,"ticks":false,"domainColor":"#999","labelFontSize":4.5,"titleFontSize":5,"titleFontWeight":"normal","labelFontWeight":"normal","labelPadding":2,"titlePadding":2,"labelColor":"#444","titleColor":"#333"}}}},
  {"width":40,"height":32,"data":{"name":"none"},"mark":{"type":"point","opacity":0},"encoding":{}},
  {"width":90,"height":32,"title":{"text":"Isobologram","fontSize":4.8,"fontWeight":"normal","offset":2},"data":{"name":"iso"},"transform":[{"filter":"datum.p=='A2'"}],"mark":{"type":"point","filled":true,"size":7,"color":"#000","opacity":1},
   "encoding":{"x":{"field":"f","type":"ordinal","sort":null,"scale":{"type":"point","padding":0.6},"axis":{"title":"Fold IC50","labelAngle":0}},"y":{"field":"c","type":"quantitative","scale":{"domain":[0,1.7],"nice":false},"axis":{"title":"Col","values":[0,0.5,1,1.5],"format":".1f","grid":true,"gridColor":"#e3e3e3","gridWidth":0.6,"ticks":false,"domainColor":"#999","labelFontSize":4.5,"titleFontSize":5,"titleFontWeight":"normal","labelFontWeight":"normal","labelPadding":2,"titlePadding":2,"labelColor":"#444","titleColor":"#333"}}}},
  {"width":26,"height":32,"data":{"name":"none"},"mark":{"type":"point","opacity":0},"encoding":{}},
  {"width":90,"height":32,"title":{"text":"Isobologram","fontSize":4.8,"fontWeight":"normal","offset":2},"data":{"name":"iso"},"transform":[{"filter":"datum.p=='A3'"}],"mark":{"type":"point","filled":true,"size":7,"color":"#000","opacity":1},
   "encoding":{"x":{"field":"f","type":"ordinal","sort":null,"scale":{"type":"point","padding":0.6},"axis":{"title":"Fold IC50","labelAngle":0}},"y":{"field":"c","type":"quantitative","scale":{"domain":[0,1.7],"nice":false},"axis":{"title":"Col","values":[0,0.5,1,1.5],"format":".1f","grid":true,"gridColor":"#e3e3e3","gridWidth":0.6,"ticks":false,"domainColor":"#999","labelFontSize":4.5,"titleFontSize":5,"titleFontWeight":"normal","labelFontWeight":"normal","labelPadding":2,"titlePadding":2,"labelColor":"#444","titleColor":"#333"}}}},
  {"width":21,"height":32,"data":{"name":"none"},"mark":{"type":"point","opacity":0},"encoding":{}},
  {"width":90,"height":32,"title":{"text":"Isobologram","fontSize":4.8,"fontWeight":"normal","offset":2},"data":{"name":"iso"},"transform":[{"filter":"datum.p=='A4'"}],"mark":{"type":"point","filled":true,"size":7,"color":"#000","opacity":1},
   "encoding":{"x":{"field":"f","type":"ordinal","sort":null,"scale":{"type":"point","padding":0.6},"axis":{"title":"Fold IC50","labelAngle":0}},"y":{"field":"c","type":"quantitative","scale":{"domain":[0,1.7],"nice":false},"axis":{"title":"Col","values":[0,0.5,1,1.5],"format":".1f","grid":true,"gridColor":"#e3e3e3","gridWidth":0.6,"ticks":false,"domainColor":"#999","labelFontSize":4.5,"titleFontSize":5,"titleFontWeight":"normal","labelFontWeight":"normal","labelPadding":2,"titlePadding":2,"labelColor":"#444","titleColor":"#333"}}}}
 ]}
]},
{"spacing":12,"resolve":{"scale":{"color":"independent","shape":"independent"}},"vconcat":[
 {"bounds":"flush","spacing":23,"resolve":{"scale":{"color":"independent","shape":"independent"}},
  "title":{"text":"B","anchor":"start","frame":"bounds","dx":-20,"fontSize":8,"fontWeight":"bold","offset":-1,"color":"#000"},
  "hconcat":[
   {"width":92,"height":58,"title":{"text":"WM793","fontSize":5,"fontWeight":"bold","offset":6},
    "encoding":{"color":{"field":"d","type":"nominal","scale":{"domain":["Dabrafenib","SHP099","Dabrafenib + SHP099"],"range":["#E3211C","#2525FF","#000000"]},"legend":null}},
    "layer":[
     {"data":{"name":"curves"},"transform":[{"filter":"datum.p=='B1'"}],"mark":{"type":"line","interpolate":"monotone","strokeWidth":1},
      "encoding":{"x":{"field":"x","type":"quantitative","scale":{"domain":[-5,1.5],"nice":false,"zero":false},"axis":{"values":[-4,-2,0],"format":"d","title":"Log[Fold IC₅₀]"}},"y":{"field":"y","type":"quantitative","scale":{"domain":[-8,115],"nice":false,"zero":false},"axis":{"values":[0,50,100],"format":"d","title":"Cell viability (%)"}}}},
     {"data":{"name":"pts"},"transform":[{"filter":"datum.p=='B1'"}],"mark":{"type":"errorbar","ticks":true,"size":2.5,"thickness":0.6},
      "encoding":{"x":{"field":"x","type":"quantitative","axis":{"title":"Log[Fold IC₅₀]"}},"y":{"field":"y","type":"quantitative","axis":{"title":"Cell viability (%)"}},"yError":{"field":"e"}}},
     {"data":{"name":"pts"},"transform":[{"filter":"datum.p=='B1'"}],"mark":{"type":"point","filled":true,"size":10,"opacity":1},
      "encoding":{"x":{"field":"x","type":"quantitative","axis":{"title":"Log[Fold IC₅₀]"}},"y":{"field":"y","type":"quantitative","axis":{"title":"Cell viability (%)"}},"shape":{"field":"d","type":"nominal","scale":{"domain":["Dabrafenib","SHP099","Dabrafenib + SHP099"],"range":["triangle-up","square","triangle-up"]},"legend":null}}},
     {"data":{"name":"cols"},"transform":[{"filter":"datum.p=='B1'"}],"mark":{"type":"text","align":"left","baseline":"middle","fontSize":7,"fontWeight":"bold","color":"#000"},"encoding":{"x":{"datum":-4.72,"type":"quantitative"},"y":{"datum":11,"type":"quantitative"},"color":{"value":"#000"},"text":{"field":"label","type":"nominal"}}}
    ]},
   {"width":92,"height":58,"title":{"text":"MDA-MB-231","fontSize":5,"fontWeight":"bold","offset":6},
    "encoding":{"color":{"field":"d","type":"nominal","scale":{"domain":["Dabrafenib","SHP099","Dabrafenib + SHP099"],"range":["#E3211C","#2525FF","#000000"]},"legend":null}},
    "layer":[
     {"data":{"name":"curves"},"transform":[{"filter":"datum.p=='B2'"}],"mark":{"type":"line","interpolate":"monotone","strokeWidth":1},
      "encoding":{"x":{"field":"x","type":"quantitative","scale":{"domain":[-1,0.6],"nice":false,"zero":false},"axis":{"values":[-1,-0.5,0,0.5],"format":".1f","title":"Log[Fold IC₅₀]"}},"y":{"field":"y","type":"quantitative","scale":{"domain":[-8,115],"nice":false,"zero":false},"axis":{"values":[0,50,100],"format":"d","title":"Cell viability (%)"}}}},
     {"data":{"name":"pts"},"transform":[{"filter":"datum.p=='B2'"}],"mark":{"type":"errorbar","ticks":true,"size":2.5,"thickness":0.6},
      "encoding":{"x":{"field":"x","type":"quantitative","axis":{"title":"Log[Fold IC₅₀]"}},"y":{"field":"y","type":"quantitative","axis":{"title":"Cell viability (%)"}},"yError":{"field":"e"}}},
     {"data":{"name":"pts"},"transform":[{"filter":"datum.p=='B2'"}],"mark":{"type":"point","filled":true,"size":10,"opacity":1},
      "encoding":{"x":{"field":"x","type":"quantitative","axis":{"title":"Log[Fold IC₅₀]"}},"y":{"field":"y","type":"quantitative","axis":{"title":"Cell viability (%)"}},"shape":{"field":"d","type":"nominal","scale":{"domain":["Dabrafenib","SHP099","Dabrafenib + SHP099"],"range":["triangle-up","square","triangle-up"]},"legend":null}}},
     {"data":{"name":"cols"},"transform":[{"filter":"datum.p=='B2'"}],"mark":{"type":"text","align":"left","baseline":"middle","fontSize":7,"fontWeight":"bold","color":"#000"},"encoding":{"x":{"datum":-0.93,"type":"quantitative"},"y":{"datum":11,"type":"quantitative"},"color":{"value":"#000"},"text":{"field":"label","type":"nominal"}}}
    ]},
   {"width":92,"height":58,"title":{"text":"H1666","fontSize":5,"fontWeight":"bold","offset":6},
    "encoding":{"color":{"field":"d","type":"nominal","scale":{"domain":["Dabrafenib","SHP099","Dabrafenib + SHP099"],"range":["#E3211C","#2525FF","#000000"]},"legend":null}},
    "layer":[
     {"data":{"name":"curves"},"transform":[{"filter":"datum.p=='B3'"}],"mark":{"type":"line","interpolate":"monotone","strokeWidth":1},
      "encoding":{"x":{"field":"x","type":"quantitative","scale":{"domain":[-4,1],"nice":false,"zero":false},"axis":{"values":[-4,-2,0],"format":"d","title":"Log[Fold IC₅₀]"}},"y":{"field":"y","type":"quantitative","scale":{"domain":[-8,115],"nice":false,"zero":false},"axis":{"values":[0,50,100],"format":"d","title":"Cell viability (%)"}}}},
     {"data":{"name":"pts"},"transform":[{"filter":"datum.p=='B3'"}],"mark":{"type":"errorbar","ticks":true,"size":2.5,"thickness":0.6},
      "encoding":{"x":{"field":"x","type":"quantitative","axis":{"title":"Log[Fold IC₅₀]"}},"y":{"field":"y","type":"quantitative","axis":{"title":"Cell viability (%)"}},"yError":{"field":"e"}}},
     {"data":{"name":"pts"},"transform":[{"filter":"datum.p=='B3'"}],"mark":{"type":"point","filled":true,"size":10,"opacity":1},
      "encoding":{"x":{"field":"x","type":"quantitative","axis":{"title":"Log[Fold IC₅₀]"}},"y":{"field":"y","type":"quantitative","axis":{"title":"Cell viability (%)"}},"shape":{"field":"d","type":"nominal","scale":{"domain":["Dabrafenib","SHP099","Dabrafenib + SHP099"],"range":["triangle-up","square","triangle-up"]},"legend":null}}},
     {"data":{"name":"cols"},"transform":[{"filter":"datum.p=='B3'"}],"mark":{"type":"text","align":"left","baseline":"middle","fontSize":7,"fontWeight":"bold","color":"#000"},"encoding":{"x":{"datum":-3.78,"type":"quantitative"},"y":{"datum":11,"type":"quantitative"},"color":{"value":"#000"},"text":{"field":"label","type":"nominal"}}}
    ]},
   {"width":92,"height":58,"title":{"text":"PC9","fontSize":5,"fontWeight":"bold","offset":6},
    "encoding":{"color":{"field":"d","type":"nominal","scale":{"domain":["Dabrafenib","SHP099","Dabrafenib + SHP099"],"range":["#E3211C","#2525FF","#000000"]},"legend":{"orient":"none","legendX":107,"legendY":1,"title":null,"labelFontSize":4.3,"labelColor":"#222","symbolSize":10,"rowPadding":-2,"labelOffset":3,"symbolStrokeWidth":0.8,"padding":0}}},
    "layer":[
     {"data":{"name":"curves"},"transform":[{"filter":"datum.p=='B4'"}],"mark":{"type":"line","interpolate":"monotone","strokeWidth":1},
      "encoding":{"x":{"field":"x","type":"quantitative","scale":{"domain":[-1.5,1],"nice":false,"zero":false},"axis":{"values":[-1,0,1],"format":"d","title":"Log[Fold IC₅₀]"}},"y":{"field":"y","type":"quantitative","scale":{"domain":[-8,115],"nice":false,"zero":false},"axis":{"values":[0,50,100],"format":"d","title":"Cell viability (%)"}}}},
     {"data":{"name":"pts"},"transform":[{"filter":"datum.p=='B4'"}],"mark":{"type":"errorbar","ticks":true,"size":2.5,"thickness":0.6},
      "encoding":{"x":{"field":"x","type":"quantitative","axis":{"title":"Log[Fold IC₅₀]"}},"y":{"field":"y","type":"quantitative","axis":{"title":"Cell viability (%)"}},"yError":{"field":"e"}}},
     {"data":{"name":"pts"},"transform":[{"filter":"datum.p=='B4'"}],"mark":{"type":"point","filled":true,"size":10,"opacity":1},
      "encoding":{"x":{"field":"x","type":"quantitative","axis":{"title":"Log[Fold IC₅₀]"}},"y":{"field":"y","type":"quantitative","axis":{"title":"Cell viability (%)"}},"shape":{"field":"d","type":"nominal","scale":{"domain":["Dabrafenib","SHP099","Dabrafenib + SHP099"],"range":["triangle-up","square","triangle-up"]},"legend":{"orient":"none","legendX":107,"legendY":1,"title":null,"labelFontSize":4.3,"labelColor":"#222","symbolSize":10,"rowPadding":-2,"labelOffset":3,"symbolStrokeWidth":0.8,"padding":0}}}},
     {"data":{"name":"cols"},"transform":[{"filter":"datum.p=='B4'"}],"mark":{"type":"text","align":"left","baseline":"middle","fontSize":7,"fontWeight":"bold","color":"#000"},"encoding":{"x":{"datum":-1.42,"type":"quantitative"},"y":{"datum":11,"type":"quantitative"},"color":{"value":"#000"},"text":{"field":"label","type":"nominal"}}}
    ]}
  ]},
 {"bounds":"flush","spacing":1,"resolve":{"scale":{"color":"independent","shape":"independent"}},"hconcat":[
  {"width":90,"height":39,"title":{"text":"Isobologram","fontSize":4.8,"fontWeight":"normal","offset":2},"data":{"name":"iso"},"transform":[{"filter":"datum.p=='B1'"}],"mark":{"type":"point","filled":true,"size":7,"color":"#000","opacity":1},
   "encoding":{"x":{"field":"f","type":"ordinal","sort":null,"scale":{"type":"point","padding":0.6},"axis":{"title":"Fold IC50","labelAngle":0}},"y":{"field":"c","type":"quantitative","scale":{"domain":[0,1.75],"nice":false},"axis":{"title":"Col","values":[0,0.5,1,1.5],"format":".1f","grid":true,"gridColor":"#e3e3e3","gridWidth":0.6,"ticks":false,"domainColor":"#999","labelFontSize":4.5,"titleFontSize":5,"titleFontWeight":"normal","labelFontWeight":"normal","labelPadding":2,"titlePadding":2,"labelColor":"#444","titleColor":"#333"}}}},
  {"width":40,"height":39,"data":{"name":"none"},"mark":{"type":"point","opacity":0},"encoding":{}},
  {"width":90,"height":39,"title":{"text":"Isobologram","fontSize":4.8,"fontWeight":"normal","offset":2},"data":{"name":"iso"},"transform":[{"filter":"datum.p=='B2'"}],"mark":{"type":"point","filled":true,"size":7,"color":"#000","opacity":1},
   "encoding":{"x":{"field":"f","type":"ordinal","sort":null,"scale":{"type":"point","padding":0.6},"axis":{"title":"Fold IC50","labelAngle":0}},"y":{"field":"c","type":"quantitative","scale":{"domain":[0,1.75],"nice":false},"axis":{"title":"Col","values":[0,0.5,1,1.5],"format":".1f","grid":true,"gridColor":"#e3e3e3","gridWidth":0.6,"ticks":false,"domainColor":"#999","labelFontSize":4.5,"titleFontSize":5,"titleFontWeight":"normal","labelFontWeight":"normal","labelPadding":2,"titlePadding":2,"labelColor":"#444","titleColor":"#333"}}}},
  {"width":26,"height":39,"data":{"name":"none"},"mark":{"type":"point","opacity":0},"encoding":{}},
  {"width":90,"height":39,"title":{"text":"Isobologram","fontSize":4.8,"fontWeight":"normal","offset":2},"data":{"name":"iso"},"transform":[{"filter":"datum.p=='B3'"}],"mark":{"type":"point","filled":true,"size":7,"color":"#000","opacity":1},
   "encoding":{"x":{"field":"f","type":"ordinal","sort":null,"scale":{"type":"point","padding":0.6},"axis":{"title":"Fold IC50","labelAngle":0}},"y":{"field":"c","type":"quantitative","scale":{"domain":[0,1.75],"nice":false},"axis":{"title":"Col","values":[0,0.5,1,1.5],"format":".1f","grid":true,"gridColor":"#e3e3e3","gridWidth":0.6,"ticks":false,"domainColor":"#999","labelFontSize":4.5,"titleFontSize":5,"titleFontWeight":"normal","labelFontWeight":"normal","labelPadding":2,"titlePadding":2,"labelColor":"#444","titleColor":"#333"}}}},
  {"width":21,"height":39,"data":{"name":"none"},"mark":{"type":"point","opacity":0},"encoding":{}},
  {"width":90,"height":39,"title":{"text":"Isobologram","fontSize":4.8,"fontWeight":"normal","offset":2},"data":{"name":"iso"},"transform":[{"filter":"datum.p=='B4'"}],"mark":{"type":"point","filled":true,"size":7,"color":"#000","opacity":1},
   "encoding":{"x":{"field":"f","type":"ordinal","sort":null,"scale":{"type":"point","padding":0.6},"axis":{"title":"Fold IC50","labelAngle":0}},"y":{"field":"c","type":"quantitative","scale":{"domain":[0,1.75],"nice":false},"axis":{"title":"Col","values":[0,0.5,1,1.5],"format":".1f","grid":true,"gridColor":"#e3e3e3","gridWidth":0.6,"ticks":false,"domainColor":"#999","labelFontSize":4.5,"titleFontSize":5,"titleFontWeight":"normal","labelFontWeight":"normal","labelPadding":2,"titlePadding":2,"labelColor":"#444","titleColor":"#333"}}}}
 ]}
]}
],
"config":{
 "view":{"stroke":null},
 "font":"Liberation Sans",
 "title":{"font":"Liberation Sans","color":"#333"},
 "axis":{"labelFont":"Liberation Sans","titleFont":"Liberation Sans","labelFontSize":4,"titleFontSize":4,"labelColor":"#111","titleColor":"#111","domainColor":"#000","domainWidth":0.8,"tickColor":"#000","tickWidth":0.6,"tickSize":2,"labelPadding":1,"titlePadding":2,"grid":false,"titleFontWeight":"bold","labelFontWeight":"bold","labelFlush":false,"labelOverlap":false},
 "axisDiscrete":{"ticks":false,"domainColor":"#999","labelFontSize":4,"titleFontSize":5,"titleFontWeight":"normal","labelFontWeight":"normal","labelPadding":2,"titlePadding":1,"labelColor":"#444","titleColor":"#333"},
 "legend":{"labelFont":"Liberation Sans"}
}
}
